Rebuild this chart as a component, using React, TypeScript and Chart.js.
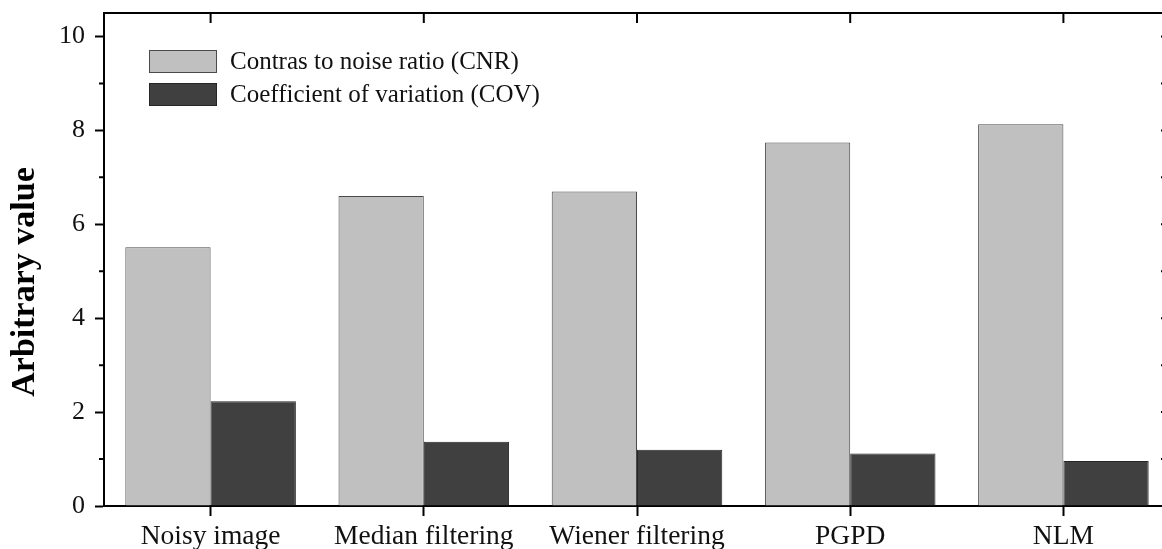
import React, { useEffect, useRef } from 'react';
import { Chart, registerables } from 'chart.js';

Chart.register(...registerables);

const categories = ['Noisy image', 'Median filtering', 'Wiener filtering', 'PGPD', 'NLM'];
const cnrValues = [5.51, 6.6, 6.7, 7.74, 8.13];
const covValues = [2.23, 1.37, 1.2, 1.12, 0.96];
const seriesLabels = ['Contras to noise ratio (CNR)', 'Coefficient of variation (COV)'];
const seriesColors = ['#c0c0c0', '#404040'];
const seriesBorders = ['#4a4a4a', '#262626'];
const yAxisTitle = 'Arbitrary value';
const yTickValues = [0, 1, 2, 3, 4, 5, 6, 7, 8, 9, 10];
const yMin = 0;
const yMax = 10.5;

const SERIF = '"Liberation Serif", "Times New Roman", serif';

const framePlugin = {
  id: 'frameExtras',
  afterDraw(chart: any) {
    const { ctx, chartArea, scales } = chart;
    const { left, right, top, bottom } = chartArea;
    const x = scales.x;
    const y = scales.y;
    ctx.save();
    ctx.strokeStyle = '#000';
    ctx.lineWidth = 2;
    // top and right border
    ctx.beginPath();
    ctx.moveTo(left - 1, top);
    ctx.lineTo(right + 1, top);
    ctx.moveTo(right, top);
    ctx.lineTo(right, bottom);
    ctx.stroke();
    // top ticks inward at category centers
    ctx.beginPath();
    for (let i = 0; i < categories.length; i++) {
      const px = x.getPixelForTick(i);
      ctx.moveTo(px, top);
      ctx.lineTo(px, top + 10);
    }
    ctx.stroke();
    // left minor ticks and right ticks
    ctx.beginPath();
    yTickValues.forEach((v) => {
      const py = y.getPixelForValue(v);
      if (v % 2 !== 0) {
        ctx.moveTo(left - 5, py);
        ctx.lineTo(left, py);
      }
      ctx.moveTo(right, py);
      ctx.lineTo(right - 9, py);
    });
    ctx.stroke();

    // legend
    const datasets = chart.data.datasets;
    const bx = left + 45;
    let by = top + 37;
    ctx.font = `25px ${SERIF}`;
    ctx.textBaseline = 'middle';
    ctx.textAlign = 'left';
    datasets.forEach((ds: any) => {
      ctx.fillStyle = ds.backgroundColor;
      ctx.fillRect(bx, by, 68, 23);
      ctx.lineWidth = 1;
      ctx.strokeStyle = ds.borderColor;
      ctx.strokeRect(bx + 0.5, by + 0.5, 67, 22);
      ctx.fillStyle = '#111';
      ctx.fillText(ds.label, bx + 81, by + 12);
      by += 33;
    });

    // y axis title
    ctx.translate(25, 282);
    ctx.rotate(-Math.PI / 2);
    ctx.font = `bold 34px ${SERIF}`;
    ctx.textAlign = 'center';
    ctx.textBaseline = 'middle';
    ctx.fillStyle = '#000';
    ctx.fillText(yAxisTitle, 0, 0);
    ctx.restore();
  },
};

export default function App() {
  const ref = useRef<HTMLCanvasElement>(null);
  useEffect(() => {
    const chart = new Chart(ref.current as HTMLCanvasElement, {
      type: 'bar',
      data: {
        labels: categories,
        datasets: [
          {
            label: seriesLabels[0],
            data: cnrValues,
            backgroundColor: seriesColors[0],
            borderColor: seriesBorders[0],
            borderWidth: 1,
            categoryPercentage: 0.8,
            barPercentage: 1.0,
          },
          {
            label: seriesLabels[1],
            data: covValues,
            backgroundColor: seriesColors[1],
            borderColor: seriesBorders[1],
            borderWidth: 1,
            categoryPercentage: 0.8,
            barPercentage: 1.0,
          },
        ],
      },
      options: {
        animation: false,
        responsive: true,
        maintainAspectRatio: false,
        layout: { padding: { top: 13, right: 5, left: 0, bottom: 0 } },
        plugins: {
          legend: { display: false },
          tooltip: { enabled: false },
          title: { display: false },
        },
        scales: {
          x: {
            offset: true,
            afterFit: (s: any) => {
              s.height = 43;
            },
            grid: {
              display: true,
              drawOnChartArea: false,
              drawTicks: true,
              tickLength: 10,
              tickWidth: 2,
              tickColor: '#000',
              offset: false,
            },
            border: { display: true, color: '#000', width: 2 },
            ticks: {
              color: '#111',
              font: { family: SERIF, size: 27.5 },
              padding: 4,
              maxRotation: 0,
              autoSkip: false,
            },
          },
          y: {
            min: yMin,
            max: yMax,
            afterFit: (s: any) => {
              s.width = 104;
              s.paddingTop = 0;
              s.paddingBottom = 0;
            },
            afterBuildTicks: (s: any) => {
              s.ticks = yTickValues.map((v) => ({ value: v }));
            },
            grid: {
              display: true,
              drawOnChartArea: false,
              drawTicks: true,
              tickLength: 9,
              tickWidth: 2,
              tickColor: (c: any) => (c.tick && c.tick.value % 2 === 0 ? '#000' : 'rgba(0,0,0,0)'),
            },
            border: { display: true, color: '#000', width: 2 },
            ticks: {
              color: '#111',
              font: { family: SERIF, size: 26 },
              padding: 10,
              callback: (v: any) => (Number(v) % 2 === 0 ? String(v) : ''),
            },
          },
        },
      },
      plugins: [framePlugin],
    });
    return () => chart.destroy();
  }, []);

  return (
    <div
      style={{
        position: 'fixed',
        left: 0,
        top: 0,
        width: 1162,
        height: 549,
        overflow: 'hidden',
        background: '#fff',
      }}
    >
      <div style={{ position: 'relative', width: 1175, height: 549 }}>
        <canvas ref={ref} />
      </div>
    </div>
  );
}
